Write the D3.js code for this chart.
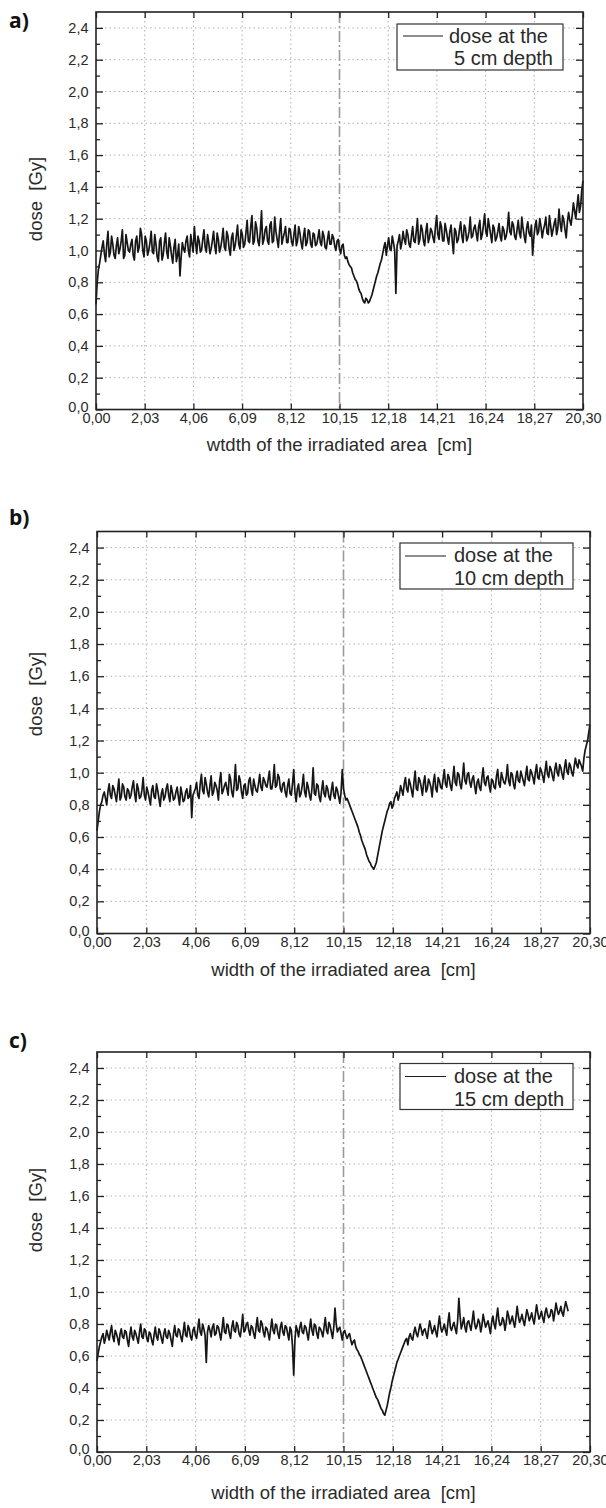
<!DOCTYPE html>
<html><head><meta charset="utf-8">
<script src="https://cdn.jsdelivr.net/npm/d3@7"></script>
<style>
html,body{margin:0;padding:0;background:#fff;}
svg{display:block;font-family:"Liberation Sans",Arial,sans-serif;}
</style></head>
<body>
<svg id="chart" width="606" height="1508"></svg>
<script>
// ---------- DATA ----------
// sample positions [cm]
const positions = [0.0,0.1,0.2,0.3,0.4,0.5,0.6,0.7,0.8,0.9,1.0,1.1,1.2,1.3,1.4,1.5,1.6,1.7,1.8,1.9,
2.0,2.1,2.2,2.3,2.4,2.5,2.6,2.7,2.8,2.9,3.0,3.1,3.2,3.3,3.4,3.5,3.6,3.7,3.8,3.9,
4.0,4.1,4.2,4.3,4.4,4.5,4.6,4.7,4.8,4.9,5.0,5.1,5.2,5.3,5.4,5.5,5.6,5.7,5.8,5.9,
6.0,6.1,6.2,6.3,6.4,6.5,6.6,6.7,6.8,6.9,7.0,7.1,7.2,7.3,7.4,7.5,7.6,7.7,7.8,7.9,
8.0,8.1,8.2,8.3,8.4,8.5,8.6,8.7,8.8,8.9,9.0,9.1,9.2,9.3,9.4,9.5,9.6,9.7,9.8,9.9,
10.0,10.1,10.2,10.3,10.4,10.5,10.6,10.7,10.8,10.9,11.0,11.1,11.2,11.3,11.4,11.5,11.6,11.7,11.8,11.9,
12.0,12.1,12.2,12.3,12.4,12.5,12.6,12.7,12.8,12.9,13.0,13.1,13.2,13.3,13.4,13.5,13.6,13.7,13.8,13.9,
14.0,14.1,14.2,14.3,14.4,14.5,14.6,14.7,14.8,14.9,15.0,15.1,15.2,15.3,15.4,15.5,15.6,15.7,15.8,15.9,
16.0,16.1,16.2,16.3,16.4,16.5,16.6,16.7,16.8,16.9,17.0,17.1,17.2,17.3,17.4,17.5,17.6,17.7,17.8,17.9,
18.0,18.1,18.2,18.3,18.4,18.5,18.6,18.7,18.8,18.9,19.0,19.1,19.2,19.3,19.4,19.5,19.6,19.7,19.8,19.9,
20.0,20.1,20.2,20.3];
const positionsMid = [0.05,0.15,0.25,0.35,0.45,0.55,0.65,0.75,0.85,0.95,1.05,1.15,1.25,1.35,1.45,1.55,1.65,1.75,1.85,1.95,
2.05,2.15,2.25,2.35,2.45,2.55,2.65,2.75,2.85,2.95,3.05,3.15,3.25,3.35,3.45,3.55,3.65,3.75,3.85,3.95,
4.05,4.15,4.25,4.35,4.45,4.55,4.65,4.75,4.85,4.95,5.05,5.15,5.25,5.35,5.45,5.55,5.65,5.75,5.85,5.95,
6.05,6.15,6.25,6.35,6.45,6.55,6.65,6.75,6.85,6.95,7.05,7.15,7.25,7.35,7.45,7.55,7.65,7.75,7.85,7.95,
8.05,8.15,8.25,8.35,8.45,8.55,8.65,8.75,8.85,8.95,9.05,9.15,9.25,9.35,9.45,9.55,9.65,9.75,9.85,9.95,
10.05,10.15,10.25,10.35,10.45,10.55,10.65,10.75,10.85,10.95,11.05,11.15,11.25,11.35,11.45,11.55,11.65,11.75,11.85,11.95,
12.05,12.15,12.25,12.35,12.45,12.55,12.65,12.75,12.85,12.95,13.05,13.15,13.25,13.35,13.45,13.55,13.65,13.75,13.85,13.95,
14.05,14.15,14.25,14.35,14.45,14.55,14.65,14.75,14.85,14.95,15.05,15.15,15.25,15.35,15.45,15.55,15.65,15.75,15.85,15.95,
16.05,16.15,16.25,16.35,16.45,16.55,16.65,16.75,16.85,16.95,17.05,17.15,17.25,17.35,17.45,17.55,17.65,17.75,17.85,17.95,
18.05,18.15,18.25,18.35,18.45,18.55,18.65,18.75,18.85,18.95,19.05,19.15,19.25,19.35,19.45,19.55,19.65,19.75,19.85,19.95,
20.05,20.15,20.25];

// dose at 5 cm depth [Gy]
const dose5cm = [0.66,0.88,0.97,1.06,0.93,1.12,0.99,1.04,0.95,1.08,1.01,1.13,0.97,1.05,0.99,1.07,0.94,1.09,1.02,1.10,
0.96,1.06,1.00,1.12,0.98,1.04,0.93,1.08,0.97,1.11,0.95,1.03,0.92,1.07,0.97,0.84,1.05,0.99,1.09,0.96,
1.04,1.15,0.98,1.06,1.00,1.13,0.99,1.05,1.01,1.12,0.98,1.07,1.02,1.14,1.00,1.09,0.97,1.11,1.03,1.16,
1.01,1.10,1.04,1.19,1.05,1.22,1.06,1.14,1.03,1.25,1.07,1.15,1.04,1.18,1.06,1.12,1.02,1.20,1.08,1.15,
1.05,1.13,1.03,1.16,1.06,1.11,1.01,1.14,1.05,1.12,1.02,1.10,1.04,1.13,1.03,1.09,1.01,1.12,1.04,1.08,
1.00,1.07,0.98,1.04,0.95,0.93,0.90,0.86,0.82,0.79,0.74,0.70,0.67,0.69,0.68,0.72,0.78,0.84,0.89,0.94,
1.02,0.97,1.08,1.00,1.05,0.73,1.06,1.01,1.12,1.04,1.10,1.02,1.15,1.05,1.20,1.07,1.13,1.03,1.17,1.08,
1.12,1.05,1.22,1.07,1.15,1.06,1.13,1.04,1.16,0.98,1.12,1.07,1.18,1.05,1.14,1.08,1.21,1.09,1.16,1.06,
1.19,1.10,1.23,1.09,1.15,1.05,1.14,1.08,1.17,1.06,1.13,1.09,1.24,1.10,1.16,1.07,1.19,1.08,1.14,1.05,
1.18,1.09,0.97,1.15,1.10,1.20,1.08,1.16,1.11,1.22,1.09,1.17,1.10,1.26,1.12,1.19,1.08,1.24,1.16,1.30,
1.20,1.35,1.28,1.44];
const dose5cmMid = [0.80,0.92,1.02,0.98,1.04,0.96,1.09,0.97,1.03,0.98,1.06,0.95,1.10,1.00,1.04,0.97,1.06,0.99,1.14,1.00,
1.09,0.97,1.05,0.99,1.10,0.96,1.06,0.94,1.05,0.99,1.08,0.97,1.02,0.93,1.04,0.96,1.01,1.06,1.00,1.10,
0.99,1.05,1.09,0.99,1.07,1.02,1.10,0.98,1.06,1.03,1.11,0.99,1.07,1.02,1.12,1.01,1.08,1.00,1.09,1.04,
1.13,1.02,1.11,1.06,1.15,1.04,1.18,1.06,1.12,1.04,1.13,1.06,1.16,1.05,1.21,1.07,1.12,1.04,1.11,1.05,
1.14,1.06,1.10,1.03,1.15,1.05,1.09,1.03,1.13,1.04,1.11,1.03,1.08,1.05,1.12,1.02,1.07,1.04,1.10,1.03,
1.06,1.01,1.03,0.97,0.96,0.91,0.89,0.84,0.81,0.76,0.73,0.68,0.70,0.67,0.70,0.75,0.81,0.86,0.92,0.98,
1.05,1.03,1.01,1.09,1.00,1.03,1.10,1.05,1.07,1.13,1.04,1.09,1.06,1.12,1.04,1.16,1.06,1.12,1.05,1.14,
1.08,1.15,1.10,1.18,1.06,1.17,1.08,1.12,1.06,1.14,1.05,1.13,1.09,1.16,1.06,1.12,1.08,1.14,1.11,1.15,
1.07,1.16,1.12,1.20,1.10,1.16,1.06,1.12,1.09,1.15,1.07,1.14,1.12,1.18,1.09,1.13,1.11,1.21,1.09,1.14,
1.11,1.16,1.08,1.19,1.12,1.15,1.13,1.21,1.10,1.16,1.13,1.20,1.14,1.17,1.22,1.13,1.18,1.19,1.22,1.25,
1.28,1.24,1.38];

// dose at 10 cm depth [Gy]
const dose10cm = [0.64,0.76,0.82,0.88,0.80,0.93,0.84,0.90,0.82,0.96,0.85,0.91,0.83,0.89,0.86,0.95,0.82,0.90,0.85,0.97,
0.83,0.88,0.80,0.92,0.84,0.89,0.79,0.90,0.85,0.93,0.82,0.88,0.84,0.91,0.80,0.87,0.83,0.90,0.85,0.72,
0.88,0.94,0.84,0.99,0.87,0.93,0.85,0.98,0.88,0.92,0.83,1.00,0.89,0.94,0.86,0.96,0.85,1.05,0.90,0.95,
0.84,0.93,0.87,0.97,0.86,0.92,0.88,0.99,0.89,0.95,0.91,1.01,0.90,1.05,0.92,0.97,0.88,0.94,0.85,0.96,
0.86,1.02,0.82,0.93,0.87,0.99,0.85,0.91,0.83,1.03,0.86,0.92,0.82,0.95,0.85,0.90,0.83,0.94,0.84,0.89,
0.81,1.02,0.86,0.84,0.80,0.76,0.72,0.68,0.63,0.58,0.54,0.49,0.45,0.42,0.40,0.44,0.52,0.60,0.67,0.73,
0.78,0.82,0.80,0.86,0.83,0.92,0.86,0.97,0.88,0.93,0.85,1.01,0.89,0.95,0.86,0.98,0.90,0.94,0.85,0.99,
0.88,0.95,0.90,1.02,0.91,0.97,0.89,1.04,0.92,0.99,0.90,1.06,0.93,1.00,0.91,0.98,0.87,0.96,0.89,1.03,
0.92,0.98,0.88,0.95,0.90,1.02,0.91,0.97,0.93,1.05,0.92,0.99,0.90,1.01,0.94,0.98,0.92,1.04,0.95,1.00,
0.93,1.05,0.96,1.01,0.94,1.07,0.97,1.02,0.95,1.06,0.98,1.03,0.96,1.08,0.99,1.04,0.98,1.09,1.03,1.06,
1.01,1.14,1.20,1.30];
const dose10cmMid = [0.70,0.80,0.86,0.84,0.88,0.86,0.92,0.86,0.89,0.83,0.93,0.85,0.90,0.84,0.91,0.87,0.93,0.84,0.89,0.86,
0.91,0.84,0.89,0.85,0.93,0.84,0.87,0.83,0.90,0.86,0.92,0.83,0.88,0.85,0.91,0.82,0.88,0.84,0.92,0.86,
0.90,0.86,0.93,0.89,0.97,0.88,0.92,0.86,0.94,0.89,0.95,0.87,0.92,0.90,0.99,0.88,0.93,0.89,0.98,0.88,
0.92,0.86,0.95,0.90,0.96,0.89,0.93,0.91,0.97,0.92,0.96,0.90,0.95,0.91,0.99,0.90,0.93,0.88,0.92,0.87,
0.93,0.88,0.90,0.85,0.92,0.88,0.94,0.86,0.90,0.87,0.93,0.85,0.89,0.87,0.92,0.85,0.89,0.86,0.91,0.85,
0.88,0.90,0.83,0.82,0.78,0.74,0.70,0.66,0.61,0.56,0.52,0.47,0.44,0.41,0.42,0.48,0.56,0.64,0.70,0.76,
0.81,0.78,0.84,0.88,0.86,0.89,0.93,0.90,0.96,0.89,0.94,0.90,0.97,0.91,0.94,0.88,0.96,0.91,0.94,0.90,
0.97,0.91,0.96,0.93,0.99,0.92,0.96,0.94,1.00,0.93,0.97,0.95,0.99,0.94,0.96,0.92,0.94,0.91,0.97,0.94,
0.97,0.92,0.96,0.91,0.98,0.93,1.00,0.94,0.97,0.95,1.00,0.93,0.97,0.95,1.01,0.95,0.98,0.96,1.02,0.97,
1.00,0.97,1.03,0.98,1.01,0.99,1.04,0.98,1.02,1.00,1.05,0.99,1.03,1.01,1.06,1.00,1.04,1.05,1.08,1.04,
1.09,1.17,1.25];

// dose at 15 cm depth [Gy]
const dose15cm = [0.57,0.66,0.72,0.68,0.76,0.70,0.79,0.69,0.74,0.67,0.77,0.71,0.75,0.66,0.78,0.70,0.74,0.68,0.80,0.71,
0.76,0.69,0.74,0.67,0.78,0.70,0.75,0.68,0.77,0.71,0.74,0.66,0.79,0.72,0.76,0.69,0.81,0.72,0.77,0.70,
0.78,0.71,0.83,0.73,0.77,0.56,0.79,0.72,0.80,0.74,0.78,0.70,0.84,0.74,0.79,0.71,0.82,0.75,0.79,0.72,
0.86,0.76,0.81,0.73,0.78,0.71,0.84,0.75,0.80,0.72,0.77,0.70,0.83,0.74,0.79,0.71,0.81,0.73,0.78,0.70,
0.76,0.48,0.79,0.72,0.81,0.74,0.78,0.70,0.83,0.73,0.79,0.71,0.77,0.72,0.84,0.74,0.79,0.71,0.90,0.75,
0.78,0.70,0.76,0.71,0.74,0.67,0.70,0.64,0.61,0.58,0.54,0.50,0.46,0.42,0.38,0.34,0.31,0.27,0.24,0.26,
0.33,0.40,0.47,0.53,0.58,0.62,0.66,0.70,0.67,0.74,0.70,0.78,0.72,0.80,0.73,0.77,0.71,0.82,0.74,0.79,
0.72,0.85,0.75,0.80,0.73,0.87,0.76,0.81,0.74,0.96,0.77,0.84,0.75,0.82,0.76,0.88,0.77,0.83,0.75,0.86,
0.78,0.82,0.74,0.85,0.77,0.90,0.79,0.84,0.76,0.88,0.80,0.85,0.78,0.91,0.81,0.86,0.79,0.89,0.82,0.87,
0.80,0.92,0.83,0.88,0.81,0.90,0.84,0.89,0.82,0.93,0.86,0.91,0.85,0.94,0.88];
const dose15cmMid = [0.62,0.69,0.74,0.71,0.73,0.75,0.72,0.76,0.71,0.74,0.72,0.76,0.70,0.73,0.72,0.76,0.71,0.75,0.72,0.77,
0.71,0.75,0.70,0.73,0.72,0.77,0.71,0.74,0.72,0.76,0.70,0.74,0.73,0.77,0.72,0.75,0.73,0.79,0.72,0.76,
0.73,0.77,0.75,0.80,0.73,0.75,0.76,0.78,0.73,0.79,0.74,0.77,0.75,0.80,0.74,0.78,0.76,0.81,0.74,0.78,
0.75,0.80,0.76,0.79,0.74,0.78,0.76,0.82,0.75,0.78,0.74,0.77,0.76,0.80,0.74,0.78,0.75,0.79,0.74,0.78,
0.66,0.70,0.76,0.78,0.75,0.79,0.74,0.77,0.76,0.80,0.74,0.78,0.75,0.78,0.76,0.81,0.75,0.78,0.80,0.77,
0.74,0.75,0.73,0.73,0.70,0.69,0.66,0.63,0.60,0.56,0.52,0.48,0.44,0.40,0.36,0.33,0.29,0.26,0.23,0.29,
0.37,0.44,0.50,0.56,0.60,0.64,0.68,0.71,0.72,0.71,0.75,0.74,0.76,0.77,0.76,0.74,0.77,0.78,0.76,0.75,
0.79,0.78,0.77,0.76,0.81,0.78,0.79,0.77,0.82,0.85,0.80,0.78,0.81,0.79,0.82,0.80,0.79,0.81,0.79,0.82,
0.80,0.78,0.81,0.80,0.84,0.82,0.80,0.82,0.81,0.85,0.82,0.81,0.84,0.85,0.83,0.82,0.84,0.86,0.84,0.83,
0.86,0.87,0.85,0.84,0.87,0.86,0.85,0.88,0.87,0.89,0.88,0.87,0.90,0.91];

const xTickValues = [0, 2.03, 4.06, 6.09, 8.12, 10.15, 12.18, 14.21, 16.24, 18.27, 20.30];
const xTickLabels = ["0,00","2,03","4,06","6,09","8,12","10,15","12,18","14,21","16,24","18,27","20,30"];
const yTickValues = [0, 0.2, 0.4, 0.6, 0.8, 1.0, 1.2, 1.4, 1.6, 1.8, 2.0, 2.2, 2.4];
const yTickLabels = ["0,0","0,2","0,4","0,6","0,8","1,0","1,2","1,4","1,6","1,8","2,0","2,2","2,4"];
const yMinorValues = [0.1,0.3,0.5,0.7,0.9,1.1,1.3,1.5,1.7,1.9,2.1,2.3];
const markerX = 10.15;
const panelLetters = ["a)","b)","c)"];
const xTitles = ["wtdth of the irradiated area  [cm]","width of the irradiated area  [cm]","width of the irradiated area  [cm]"];
const yTitle = "dose  [Gy]";
const legendLine1 = ["dose at the","dose at the","dose at the"];
const legendLine2 = ["5 cm depth","10 cm depth","15 cm depth"];
const seriesMain = [dose5cm, dose10cm, dose15cm];
const seriesMid = [dose5cmMid, dose10cmMid, dose15cmMid];

// ---------- LAYOUT ----------
const panels = [
  {l:96, r:583, t:12,    b:409.5, letterY:28,   xTitleY:451, yTitleC:199,
   leg:{x:397,y:24,w:166,h:46, lx1:403, lx2:443, ly:36, tx1:449, tx2:454, b1:43, b2:65}},
  {l:97, r:590, t:531.5, b:933.5, letterY:525,  xTitleY:976, yTitleC:694,
   leg:{x:400,y:543,w:173,h:46, lx1:405, lx2:446, ly:556, tx1:454, tx2:454, b1:562, b2:585}},
  {l:97, r:590, t:1052,  b:1452,  letterY:1048, xTitleY:1499, yTitleC:1210,
   leg:{x:400,y:1063.5,w:173,h:46, lx1:405, lx2:446, ly:1076.5, tx1:454, tx2:454, b1:1082.5, b2:1105.5}}
];

const svg = d3.select("#chart");
const ink = "#222";
const txt = "#2a2a2a";

panels.forEach((p, k) => {
  const x = d3.scaleLinear().domain([0, 20.30]).range([p.l, p.r]);
  const y = d3.scaleLinear().domain([0, 2.5]).range([p.b, p.t]);
  const g = svg.append("g");

  // grid
  g.append("g").selectAll("line").data(yTickValues.filter(v => v > 0)).join("line")
    .attr("x1", p.l).attr("x2", p.r).attr("y1", d => y(d)).attr("y2", d => y(d))
    .attr("stroke", "#b0b0b0").attr("stroke-width", 1).attr("stroke-dasharray", "1.5,3");
  g.append("g").selectAll("line").data(xTickValues.filter(v => v > 0 && v < 20.3 && v !== markerX)).join("line")
    .attr("x1", d => x(d)).attr("x2", d => x(d)).attr("y1", p.t).attr("y2", p.b)
    .attr("stroke", "#b0b0b0").attr("stroke-width", 1).attr("stroke-dasharray", "1.5,3");

  // dash-dot marker
  g.append("line").attr("x1", x(markerX)).attr("x2", x(markerX)).attr("y1", p.t).attr("y2", p.b)
    .attr("stroke", "#9a9a9a").attr("stroke-width", 1.6).attr("stroke-dasharray", "11,3,2,3");

  // data line (main samples interleaved with half-step samples)
  const main = seriesMain[k], mid = seriesMid[k];
  const pts = [];
  main.forEach((v, i) => {
    pts.push([positions[i], v]);
    if (i < mid.length && i < main.length - 1) pts.push([positionsMid[i], mid[i]]);
  });
  g.append("path").datum(pts)
    .attr("fill", "none").attr("stroke", "#161616").attr("stroke-width", 1.7)
    .attr("stroke-linejoin", "round")
    .attr("d", d3.line().x(d => x(d[0])).y(d => y(d[1])));

  // axes
  const fmtX = (d, i) => xTickLabels[i];
  const fmtY = (d, i) => yTickLabels[i];
  const styleAxis = sel => {
    sel.select(".domain").remove();
    sel.selectAll(".tick line").attr("stroke", ink).attr("stroke-width", 1.3);
    sel.selectAll("text").attr("fill", txt).attr("font-size", "14.5px")
      .attr("font-family", '"Liberation Sans", Arial, sans-serif');
  };
  g.append("g").attr("transform", `translate(0,${p.b})`)
    .call(d3.axisBottom(x).tickValues(xTickValues).tickFormat(fmtX).tickSize(-6).tickPadding(3))
    .call(styleAxis);
  g.append("g").attr("transform", `translate(0,${p.t})`)
    .call(d3.axisTop(x).tickValues(xTickValues).tickFormat("").tickSize(-6))
    .call(styleAxis);
  const yAx = g.append("g").attr("transform", `translate(${p.l},0)`)
    .call(d3.axisLeft(y).tickValues(yTickValues).tickFormat(fmtY).tickSize(-7).tickPadding(7.5))
    .call(styleAxis);
  yAx.selectAll(".tick").filter(d => d === 0).select("text").attr("y", -3);
  g.append("g").attr("transform", `translate(${p.l},0)`)
    .call(d3.axisLeft(y).tickValues(yMinorValues).tickFormat("").tickSize(-4))
    .call(styleAxis);
  g.append("g").attr("transform", `translate(${p.r},0)`)
    .call(d3.axisRight(y).tickValues(yTickValues).tickFormat("").tickSize(-7))
    .call(styleAxis);
  g.append("g").attr("transform", `translate(${p.r},0)`)
    .call(d3.axisRight(y).tickValues(yMinorValues).tickFormat("").tickSize(-4))
    .call(styleAxis);

  // frame
  g.append("rect").attr("x", p.l).attr("y", p.t).attr("width", p.r - p.l).attr("height", p.b - p.t)
    .attr("fill", "none").attr("stroke", ink).attr("stroke-width", 1.6);

  // legend
  const L = p.leg;
  g.append("rect").attr("x", L.x).attr("y", L.y).attr("width", L.w).attr("height", L.h)
    .attr("fill", "#fff").attr("stroke", "#333").attr("stroke-width", 1.2);
  g.append("line").attr("x1", L.lx1).attr("x2", L.lx2).attr("y1", L.ly).attr("y2", L.ly)
    .attr("stroke", "#1c1c1c").attr("stroke-width", 1.2);
  g.append("text").attr("x", L.tx1).attr("y", L.b1).attr("font-size", "20px").attr("fill", txt).text(legendLine1[k]);
  g.append("text").attr("x", L.tx2).attr("y", L.b2).attr("font-size", "20px").attr("fill", txt).text(legendLine2[k]);

  // titles
  g.append("text").attr("x", (p.l + p.r) / 2).attr("y", p.xTitleY).attr("text-anchor", "middle")
    .attr("font-size", "18.5px").attr("fill", txt).style("white-space", "pre").text(xTitles[k]);
  g.append("text").attr("transform", `translate(42,${p.yTitleC}) rotate(-90)`).attr("text-anchor", "middle")
    .attr("font-size", "18.5px").attr("fill", txt).style("white-space", "pre").text(yTitle);

  // panel letter
  g.append("text").attr("x", 9).attr("y", p.letterY).attr("font-size", "21px").attr("font-weight", "bold")
    .attr("font-family", '"Open Sans", "Liberation Sans", sans-serif').attr("fill", "#111").text(panelLetters[k]);
});
</script>
</body></html>
